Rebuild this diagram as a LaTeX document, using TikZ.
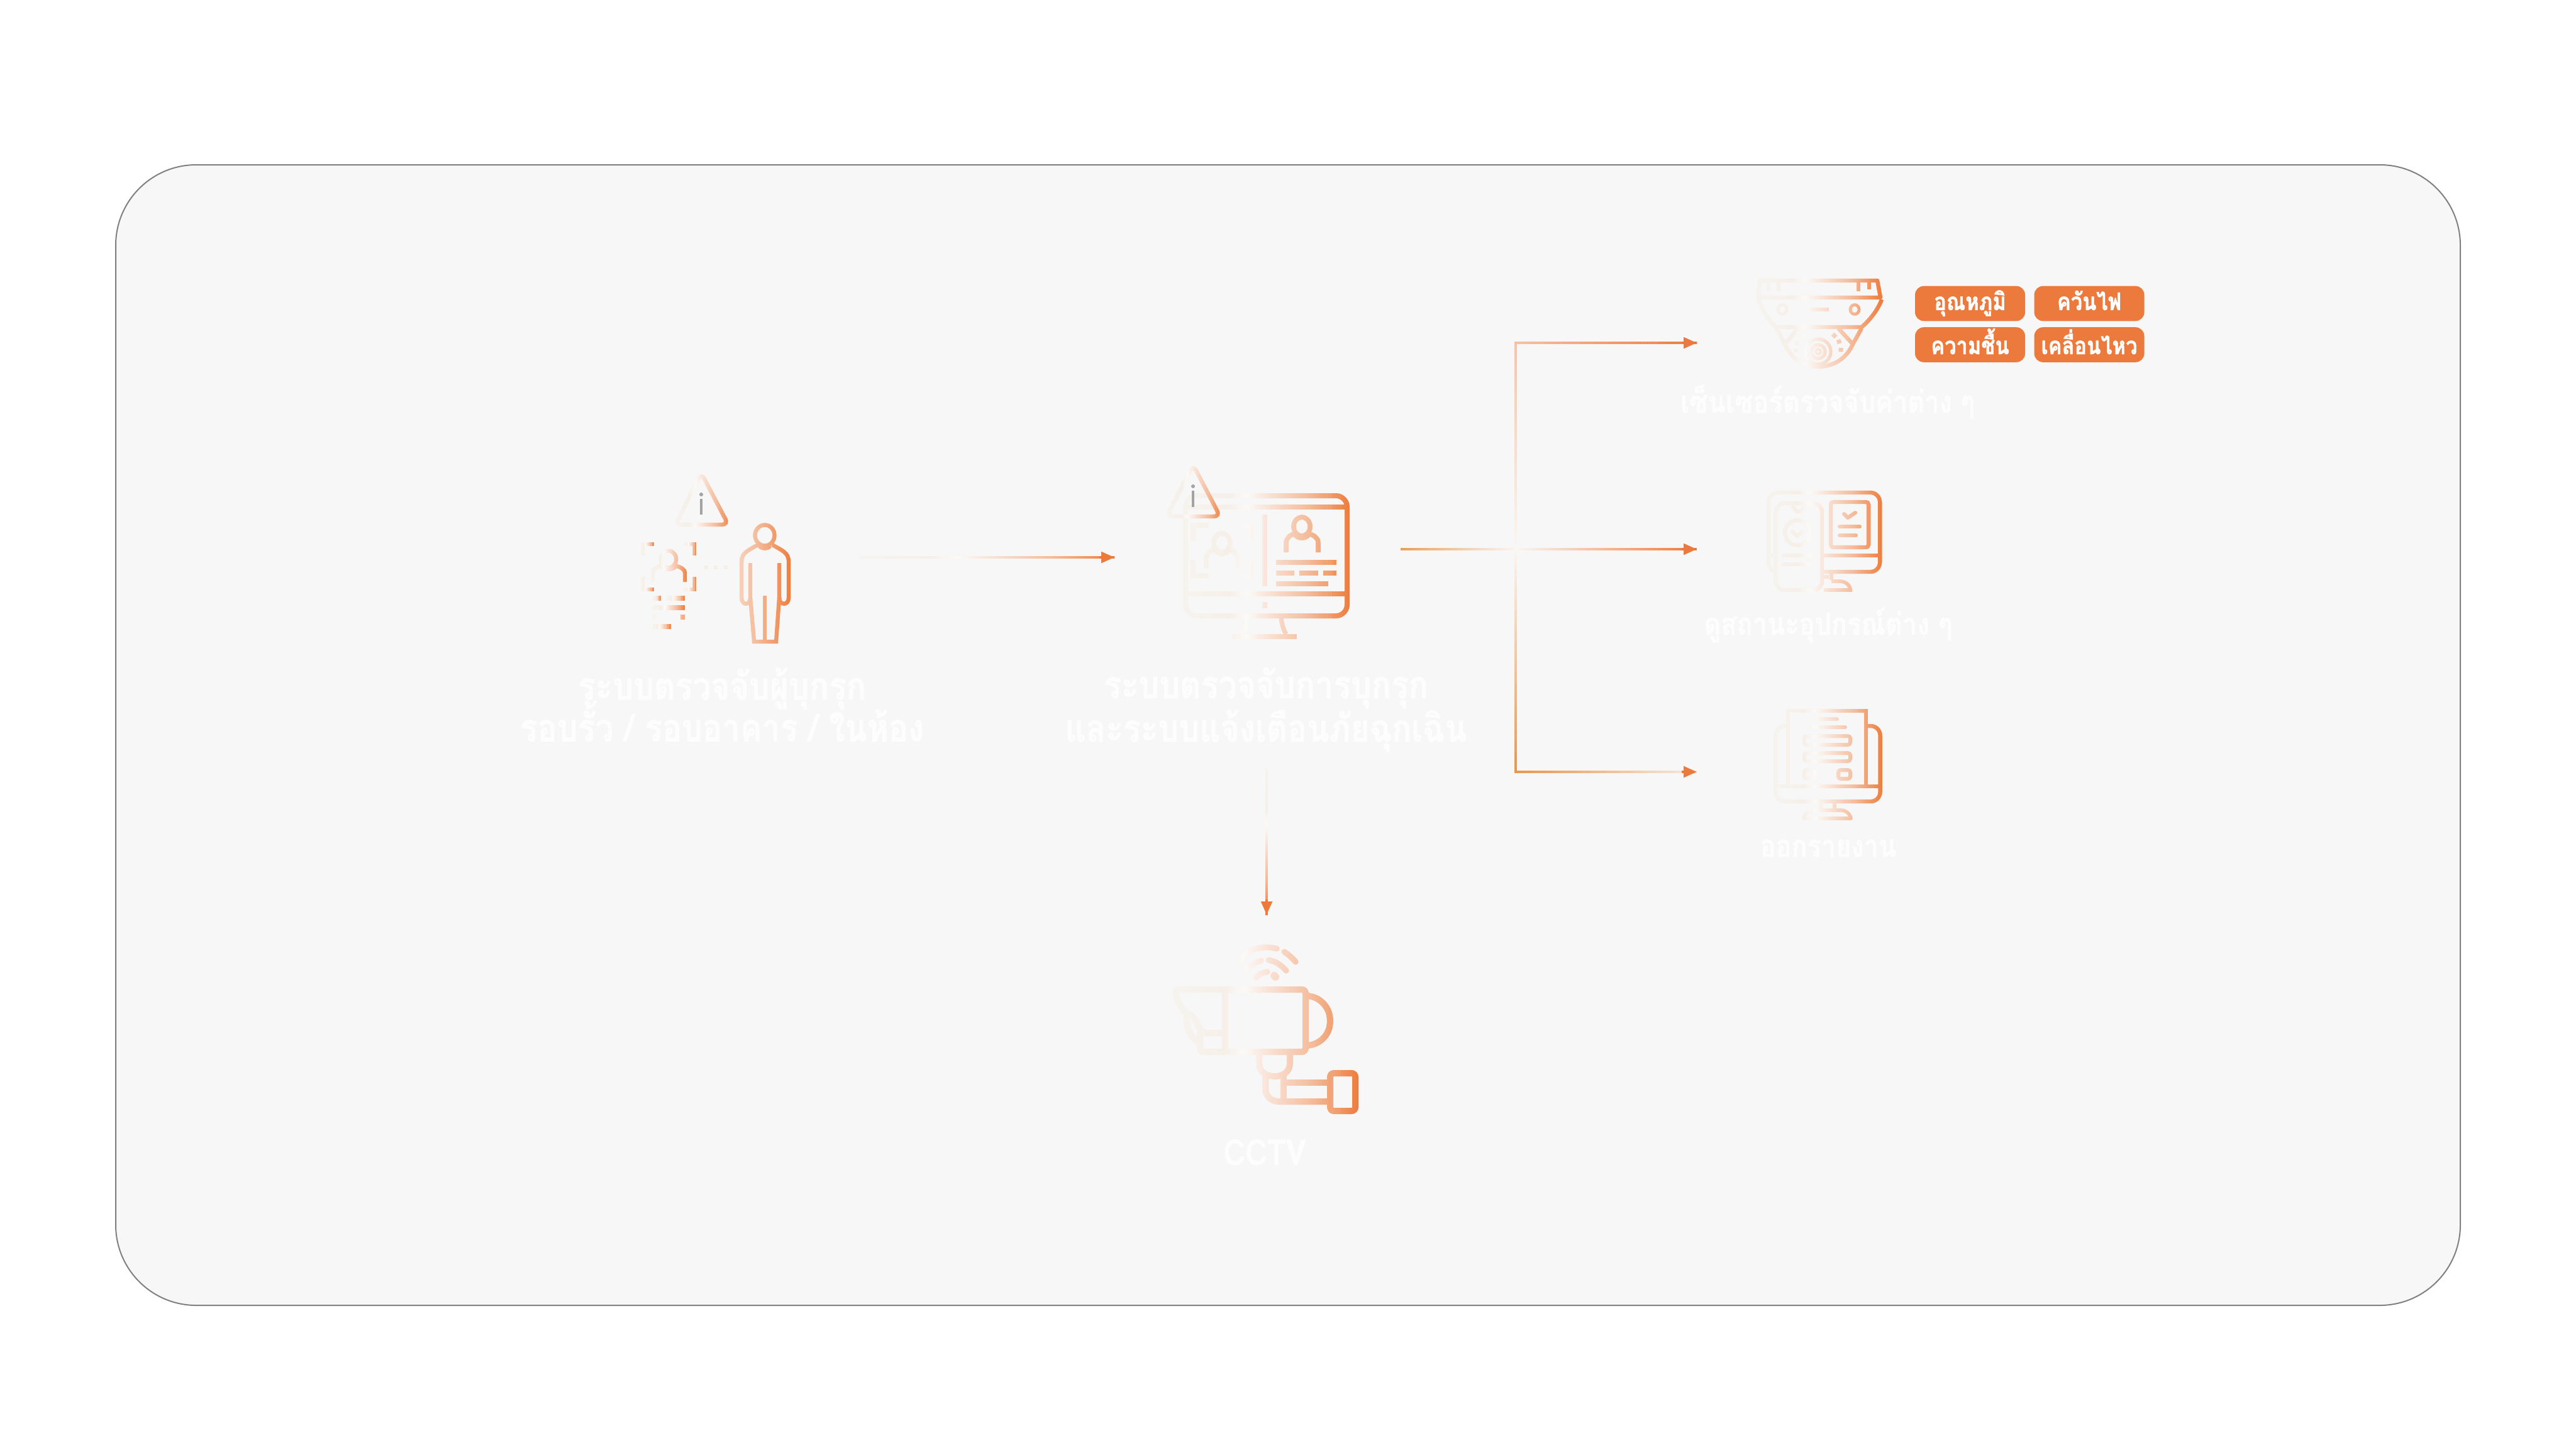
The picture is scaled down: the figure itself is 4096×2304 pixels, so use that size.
\documentclass[tikz,border=0pt]{standalone}
\usepackage{fontspec}
\usetikzlibrary{arrows.meta}
\newfontfamily\thaifont[Script=Thai,FakeStretch=0.85,BoldFeatures={FakeBold=1.2}]{Loma}
\definecolor{gA}{HTML}{F6F3EE}
\definecolor{gB}{HTML}{F6EFE8}
\definecolor{gC}{HTML}{FBFAF8}
\definecolor{gD}{HTML}{F9E5DA}
\definecolor{gE}{HTML}{F4BC9B}
\definecolor{gF}{HTML}{EE7D3E}
\definecolor{orangeM}{HTML}{ED7A3D}
\definecolor{panelF}{HTML}{F7F7F7}
\definecolor{panelL}{HTML}{808080}
\definecolor{greyI}{HTML}{A3A3A3}
\definecolor{lblT}{HTML}{FDFDFD}
\colorlet{gc}{gF}
\newcommand\gmix[5]{\pgfmathsetmacro\gp{max(0,min(100,(\gt-#3)/(#4-#3)*100))}\colorlet{gc}{#2!\gp!#1}}
\newcommand\gcolorfun{%
  \ifdim\gt pt<0.28pt \gmix{gA}{gB}{0}{0.28}{}\else
  \ifdim\gt pt<0.38pt \gmix{gB}{gC}{0.28}{0.38}{}\else
  \ifdim\gt pt<0.5pt \gmix{gC}{gD}{0.38}{0.5}{}\else
  \ifdim\gt pt<0.75pt \gmix{gD}{gE}{0.5}{0.75}{}\else
  \gmix{gE}{gF}{0.75}{1}{}\fi\fi\fi\fi}
% axis, gradient from, gradient to, slice from, slice to, drawing
\newcommand\gradrun[6]{%
  \pgfmathtruncatemacro\gn{max(1,ceil((#5-#4)/3))}%
  \pgfmathsetmacro\gst{(#5-#4)/\gn}%
  \foreach \gi in {1,...,\gn}{%
    \pgfmathsetmacro\ga{#4+(\gi-1)*\gst}%
    \pgfmathsetmacro\gb{\ga+\gst+0.4}%
    \pgfmathsetmacro\gt{min(1,max(0,(\ga+0.5*\gst-#2)/(#3-#2)))}%
    \gcolorfun
    \begin{scope}
      \if x#1\clip (\ga,0) rectangle (\gb,2304);\else\clip (0,\ga) rectangle (4096,\gb);\fi
      #6
    \end{scope}
  }}
% axis, from, to, colour A, colour B, drawing
\newcommand\lgrad[6]{%
  \begin{scope}
    \def\gcolorfun{\pgfmathsetmacro\gp{\gt*100}\colorlet{gc}{#5!\gp!#4}}%
    \gradrun{#1}{#2}{#3}{#2}{#3}{#6}%
  \end{scope}}
\tikzset{
  ic/.style={draw=gc,line width=#1pt},
  ic/.default=1.6,
  conn/.style={draw=gc,line width=.85pt,line cap=rect},
  tipst/.style={draw=orangeM,line width=.85pt,-{Triangle[length=5.25pt,width=4.4pt,sep=0pt]},orangeM},
  lblnode/.style={text=lblT,inner sep=0pt,align=center,font=\thaifont\bfseries\fontsize{#1}{16.5}\selectfont},
  pillbase/.style={fill=orangeM,text=white,rounded corners=3.5pt,minimum width=43.75pt,minimum height=13.9pt,inner sep=0pt,font=\thaifont\bfseries\fontsize{9.6}{12}\selectfont},
  pillup/.style={pillbase,text height=7pt,text depth=1.8pt},
  pilldown/.style={pillbase,text height=8.5pt,text depth=1pt},
  panel/.style={draw=panelL,fill=panelF,line width=.5pt,rounded corners=32pt,minimum width=932pt,minimum height=453.25pt,inner sep=0pt}
}
\begin{document}
\begin{tikzpicture}[x=.25pt,y=-.25pt]
\useasboundingbox (0,0) rectangle (4096,2304);
\fill[white] (0,0) rectangle (4096,2304);
\node[panel] (panel) at (2048,1168.5) {};

% ---------- icon 1: person and alert
\gradrun{x}{1071}{1162}{1068}{1165}{\draw[ic,rounded corners=2.5pt] (1115,752) -- (1158,834) -- (1074,834) -- cycle;}
\fill[greyI] (1115,786) circle [radius=3];
\draw[greyI,line width=1pt] (1115,793) -- (1115,818);
\gradrun{x}{1019}{1040}{1019}{1040}{\draw[ic] (1022,883) -- (1022,865) -- (1040,865);}
\gradrun{x}{1087}{1108}{1087}{1108}{\draw[ic] (1087,865) -- (1104,865) -- (1104,883);}
\gradrun{x}{1019}{1040}{1019}{1040}{\draw[ic] (1022,917) -- (1022,937) -- (1040,937);}
\gradrun{x}{1087}{1108}{1087}{1108}{\draw[ic] (1087,937) -- (1104,937) -- (1104,917);}
\gradrun{x}{1033}{1093}{1033}{1093}{%
  \draw[ic] (1063,889) ellipse [x radius=12,y radius=13.5];
  \draw[ic] (1038,925) -- (1038,910) .. controls (1038,904) and (1045,902) .. (1052,899);
  \draw[ic] (1052,901) .. controls (1058,906) and (1068,906) .. (1074,901);
  \draw[ic] (1074,899) .. controls (1082,902) and (1089,904) .. (1089,912) -- (1089,925);}
\gradrun{x}{1038}{1051}{1038}{1051}{\draw[ic=1.9] (1038,951) -- (1051,951);}
\gradrun{x}{1060}{1089}{1060}{1089}{\draw[ic=1.9] (1060,951) -- (1089,951);}
\gradrun{x}{1038}{1089}{1038}{1089}{\draw[ic=1.9] (1038,966) -- (1089,966);}
\gradrun{x}{1030}{1060}{1038}{1044}{\draw[ic=1.9] (1038,981) -- (1044,981);}
\gradrun{x}{1030}{1100}{1082}{1089}{\draw[ic=1.9] (1082,981) -- (1089,981);}
\gradrun{x}{1038}{1067}{1038}{1067}{\draw[ic=1.9] (1038,996) -- (1067,996);}
\draw[gB,line width=1.7pt] (1120,902) -- (1126,902) (1135,902) -- (1141,902) (1151,902) -- (1157,902);
\gradrun{x}{1040}{1258}{1173}{1260}{%
  \draw[ic] (1216,851) ellipse [x radius=15.5,y radius=16.5];
  \draw[ic] (1205,866) .. controls (1190,875) and (1179,878) .. (1179,893) -- (1179,950) .. controls (1179,963) and (1193,963) .. (1193,950) -- (1193,895);
  \draw[ic] (1193,950) -- (1199,1020) -- (1234,1020) -- (1239,950);
  \draw[ic] (1239,895) -- (1239,950) .. controls (1239,963) and (1254,963) .. (1254,950) -- (1254,893) .. controls (1254,878) and (1243,875) .. (1228,866);
  \draw[ic] (1207,868) .. controls (1212,873) and (1220,873) .. (1225,868);
  \draw[ic] (1216,947) -- (1216,1020);}
\node[lblnode=15.2] (lblA) at (1148,1120) {ระบบตรวจจับผู้บุกรุก\\[-4.5pt]รอบรั้ว / รอบอาคาร / ในห้อง};

% ---------- icon 2: monitor and alert
\gradrun{x}{1881}{2146}{1881}{2146}{%
  \draw[ic=2,rounded corners=4.5pt] (1885,788) rectangle (2142,979);
  \draw[ic=2] (1885,806) -- (2142,806);
  \draw[ic=2] (1885,944) -- (2142,944);
  \draw[ic=2] (2011,818) -- (2011,932);
  \draw[ic=2.2] (2011,957) -- (2011,967);
  \draw[ic=2,line cap=rect] (1897,856) -- (1897,835) -- (1918,835);
  \draw[ic=2,line cap=rect] (1975,835) -- (1989,835) -- (1989,856);
  \draw[ic=2,line cap=rect] (1897,894) -- (1897,915) -- (1918,915);
  \draw[ic=2,line cap=rect] (1975,915) -- (1989,915) -- (1989,894);
  \draw[ic=1.9] (1943,863) ellipse [x radius=13,y radius=15];
  \draw[ic=1.9] (1918,903) -- (1918,888) .. controls (1918,880) and (1924,876) .. (1932,873);
  \draw[ic=1.9] (1932,875) .. controls (1938,882) and (1948,882) .. (1954,875);
  \draw[ic=1.9] (1954,873) .. controls (1962,876) and (1969,880) .. (1969,888) -- (1969,903);
  \draw[ic=1.9] (2070,837) ellipse [x radius=13,y radius=15];
  \draw[ic=1.9] (2045,878) -- (2045,863) .. controls (2045,855) and (2051,851) .. (2059,848);
  \draw[ic=1.9] (2059,850) .. controls (2065,857) and (2075,857) .. (2081,850);
  \draw[ic=1.9] (2081,848) .. controls (2089,851) and (2096,855) .. (2096,863) -- (2096,878);
  \draw[ic=2.2] (2029,894) -- (2125,894);
  \draw[ic=2.2] (2029,911) -- (2058,911) (2066,911) -- (2096,911) (2104,911) -- (2125,911);
  \draw[ic=2.2] (2029,928) -- (2112,928);
  \draw[ic=1.8] (1983,983) .. controls (1982,992) and (1979,1002) .. (1975,1008);
  \draw[ic=1.8] (2037,983) .. controls (2038,992) and (2041,1002) .. (2045,1008);
  \draw[ic=2.2] (1960,1012) -- (2062,1012);}
\gradrun{x}{1854}{1944}{1851}{1947}{\draw[ic,rounded corners=2.5pt] (1897,739) -- (1940,821) -- (1855,821) -- cycle;}
\fill[greyI] (1897,773) circle [radius=3];
\draw[greyI,line width=1pt] (1897,780) -- (1897,806);
\node[lblnode=15.2] (lblB) at (2013,1128) {ระบบตรวจจับการบุกรุก\\[-0.5pt]และระบบแจ้งเตือนภัยฉุกเฉิน};

% ---------- icon 3: dome sensor
\gradrun{x}{2796}{2992}{2792}{2996}{%
  \draw[ic,line join=round] (2798,446) -- (2985,446) -- (2990,473) -- (2796,473) -- cycle;
  \draw[ic] (2812,446) -- (2812,463) (2828,446) -- (2828,463) (2955,446) -- (2955,463) (2972,446) -- (2972,460);
  \draw[ic] (2796,476) .. controls (2802,492) and (2810,508) .. (2824,520) -- (2960,520) .. controls (2974,508) and (2986,492) .. (2992,476);
  \draw[ic=1.2] (2834,492) ellipse [x radius=7,y radius=7.5];
  \draw[ic=1.2] (2949,492) ellipse [x radius=7,y radius=7.5];
  \draw[ic=1.7] (2877,492) -- (2908,492);
  \draw[ic] (2825,522) -- (2838,547) .. controls (2848,570) and (2868,583) .. (2890,583) .. controls (2915,583) and (2936,570) .. (2946,547) -- (2960,522);
  \draw[ic] (2859,522) -- (2838,547) (2923,522) -- (2946,547);
  \draw[ic=1.3] (2891,559) circle [radius=20];
  \draw[ic=1.3] (2891,559) circle [radius=11];
  \draw[ic=1] (2891,559) circle [radius=4];
  \draw[ic=1.7] (2914,531) -- (2919,536) (2923,540) -- (2925,546) (2927,553) -- (2927,559);
  \draw[ic=1.7] (2869,531) -- (2865,536) (2859,543) -- (2857,549) (2856,554) -- (2856,560);}
\node[lblnode=12.2,anchor=base] (lblC) at (2906,656) {เซ็นเซอร์ตรวจจับค่าต่าง ๆ};
\node[pillup] (p1) at (3132.5,482.5) {อุณหภูมิ};
\node[pillup] (p2) at (3322,482.5) {ควันไฟ};
\node[pilldown] (p3) at (3132.5,548) {ความชื้น};
\node[pilldown] (p4) at (3322,548) {เคลื่อนไหว};

% ---------- icon 4: status screens
\gradrun{x}{2808}{2993}{2806}{2995}{%
  \draw[ic,rounded corners=3.75pt] (2812,783) rectangle (2989,909);
  \draw[ic] (2812,883) -- (2989,883);
  \draw[ic] (2912,909) -- (2912,922);
  \draw[ic=1.3] (2900,917) -- (2908,917);
  \draw[ic=1.4] (2912,924) -- (2925,924) .. controls (2934,924) and (2942,930) .. (2942,938) -- (2900,938);
  \draw[ic,rounded corners=3.5pt,fill=panelF] (2823.5,800) rectangle (2897,938);
  \draw[ic] (2850,802) .. controls (2853,812) and (2857,813) .. (2860,813) .. controls (2864,813) and (2867,812) .. (2870,802);
  \draw[ic] (2858,847) circle [radius=20];
  \draw[ic=1.4,line cap=round,line join=round] (2850,845) -- (2857,852) -- (2868,844);
  \draw[ic=1.5,line cap=round] (2836,883) -- (2883,883);
  \draw[ic=1.5,line cap=round] (2836,897) -- (2878,897);
  \draw[ic,rounded corners=1pt] (2911,798) rectangle (2971,870);
  \draw[ic=1.5,line cap=round,line join=round] (2932,817) -- (2938,823) -- (2950,815);
  \draw[ic=1.5,line cap=round] (2925,837) -- (2957,837);
  \draw[ic=1.5,line cap=round] (2925,851) -- (2951,851);}
\node[lblnode=12.2,anchor=base] (lblD) at (2907,1009) {ดูสถานะอุปกรณ์ต่าง ๆ};

% ---------- icon 5: report
\gradrun{x}{2820}{2993}{2818}{2995}{%
  \draw[ic,rounded corners=3.75pt] (2843,1154) -- (2823.5,1154) -- (2823.5,1274) -- (2989.5,1274) -- (2989.5,1154) -- (2967,1154);
  \draw[ic] (2823.5,1250) -- (2989.5,1250);
  \draw[ic,line cap=rect] (2843,1250) -- (2843,1130) -- (2967,1130) -- (2967,1250);
  \draw[ic=1.4,line cap=round] (2890,1143) -- (2921,1143);
  \draw[ic=1.4,line cap=round] (2879,1156) -- (2934,1156);
  \draw[ic=1.5,rounded corners=1pt] (2869,1170) rectangle (2942,1184);
  \draw[ic=1.5,rounded corners=1pt] (2869,1197) rectangle (2942,1210);
  \draw[ic=1.5,rounded corners=1pt] (2869,1224) rectangle (2885,1238);
  \draw[ic=1.5,rounded corners=1pt] (2923,1224) rectangle (2942,1238);
  \draw[ic] (2895,1277) -- (2895,1288) (2917,1277) -- (2917,1288);
  \draw[ic=1.4,line join=round] (2868,1301) .. controls (2870,1293) and (2878,1288) .. (2885,1288) -- (2927,1288) .. controls (2935,1288) and (2941,1293) .. (2943,1301) -- cycle;}
\node[lblnode=12.2,anchor=base] (lblE) at (2907,1362) {ออกรายงาน};

% ---------- icon 6: CCTV
\gradrun{x}{1865}{2160}{1862}{2163}{%
  \draw[ic=2.5,rounded corners=1.5pt] (1948,1573) rectangle (2076,1672);
  \draw[ic=2.5,rounded corners=1.5pt] (1948,1573) -- (1869,1573) .. controls (1871,1590) and (1878,1604) .. (1890,1612) .. controls (1900,1619) and (1903,1626) .. (1907,1634) .. controls (1911,1640) and (1917,1642) .. (1925,1642) -- (1948,1642);
  \draw[ic=2.5,rounded corners=1.5pt] (1908,1640) -- (1908,1672) -- (1948,1672);
  \draw[ic=2.5] (1888,1614) .. controls (1884,1630) and (1893,1650) .. (1907,1657);
  \draw[ic=2.5] (2079,1583) .. controls (2100,1585) and (2115,1602) .. (2115,1623) .. controls (2115,1644) and (2100,1660) .. (2079,1662);
  \draw[ic=2.5] (2002,1677) -- (2002,1690) .. controls (2002,1703) and (2012,1711) .. (2027,1711) .. controls (2041,1711) and (2051,1703) .. (2051,1690) -- (2051,1677);
  \draw[ic=2.5] (2012,1707) -- (2012,1730) .. controls (2012,1742) and (2021,1751) .. (2033,1751) -- (2115,1751);
  \draw[ic=2.5] (2041,1710) -- (2041,1751);
  \draw[ic=2.5] (2041,1721) -- (2115,1721);
  \draw[ic=2.5,rounded corners=1.5pt] (2115,1706) rectangle (2155,1766);
  \draw[ic=2.3,line cap=round] (1970,1528) .. controls (1980,1510) and (2005,1502) .. (2030,1508);
  \draw[ic=2.3,line cap=round] (2042,1513) .. controls (2048,1517) and (2054,1522) .. (2060,1529);
  \draw[ic=2.3,line cap=round] (1982,1542) .. controls (1988,1535) and (1996,1530) .. (2005,1527);
  \draw[ic=2.3,line cap=round] (2017,1526) .. controls (2028,1528) and (2037,1534) .. (2045,1543);
  \draw[ic=2.3,line cap=round] (1997,1554) .. controls (2001,1549) and (2007,1546) .. (2015,1545);
  \draw[ic=3,line cap=round] (2026,1551) -- (2028,1553);}
\node[lblnode=14.2,anchor=base] (lblF) at (2011,1852) {CCTV};

% ---------- connectors
\coordinate (aS) at (1367,886);
\coordinate (aE) at (1772,886);
\coordinate (vS) at (2014,1223);
\coordinate (vE) at (2014,1454);
\coordinate (stubS) at (2227,873);
\coordinate (jM) at (2410,873);
\coordinate (jT) at (2410,545);
\coordinate (jB) at (2410,1227);
\coordinate (endT) at (2698,545);
\coordinate (endM) at (2698,873);
\coordinate (endB) at (2698,1227);
\gradrun{x}{1367}{1772}{1367}{1772}{\draw[conn] (aS) -- (aE);}
\gradrun{y}{1223}{1454}{1223}{1454}{\draw[conn] (vS) -- (vE);}
\definecolor{cA}{HTML}{E8A05C}\definecolor{cB}{HTML}{FAF6F2}\definecolor{cC}{HTML}{F6C2A6}\definecolor{cD}{HTML}{E8954B}\definecolor{cE}{HTML}{F5EADF}
\lgrad{x}{2227}{2410}{cA}{cB}{\draw[conn,line cap=butt] (stubS) -- (jM);}
\lgrad{x}{2410}{2698}{cB}{orangeM}{\draw[conn,line cap=butt] (jM) -- (endM);}
\lgrad{y}{540}{873}{cC}{cB}{\draw[conn] (jT) -- (jM);}
\lgrad{y}{873}{1232}{cB}{cD}{\draw[conn] (jM) -- (jB);}
\lgrad{x}{2405}{2698}{cC}{orangeM}{\draw[conn] (jT) -- (endT);}
\lgrad{x}{2405}{2698}{cD}{cE}{\draw[conn] (jB) -- (endB);}
\draw[tipst] ([xshift=-6pt]aE) -- (aE);
\draw[tipst] ([yshift=6pt]vE) -- (vE);
\draw[tipst] ([xshift=-6pt]endT) -- (endT);
\draw[tipst] ([xshift=-6pt]endM) -- (endM);
\draw[tipst] ([xshift=-6pt]endB) -- (endB);
\end{tikzpicture}
\end{document}
